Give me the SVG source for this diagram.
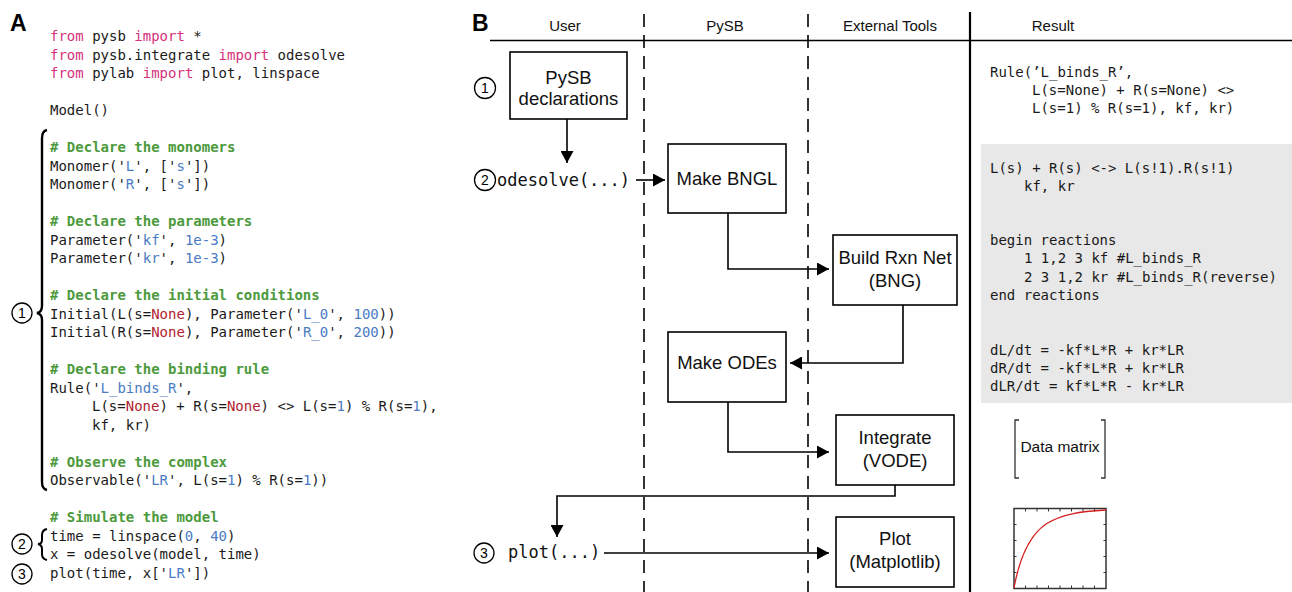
<svg xmlns="http://www.w3.org/2000/svg" width="1292" height="592" viewBox="0 0 1292 592">
<defs>
<style>
.code{font-family:"DejaVu Sans Mono","Liberation Mono",monospace;font-size:14px;fill:#1a1a1a}
.k{fill:#d6307c}
.c{fill:#4c9a3c;font-weight:bold}
.s{fill:#4a7cc4}
.n{fill:#b3212f}
.lbl{font-family:"Liberation Sans",Arial,sans-serif;font-size:18.5px;fill:#111;text-anchor:middle}
.hdr{font-family:"Liberation Sans",Arial,sans-serif;font-size:15px;fill:#111;text-anchor:middle}
.dm{font-family:"Liberation Sans",Arial,sans-serif;font-size:15.5px;fill:#111;text-anchor:middle}
.big{font-family:"Liberation Sans",Arial,sans-serif;font-size:23px;font-weight:bold;fill:#000}
.num{font-family:"Liberation Sans",Arial,sans-serif;font-size:14px;fill:#000;text-anchor:middle}
.circ{fill:none;stroke:#000;stroke-width:1.3}
.box{fill:#fff;stroke:#000;stroke-width:1.6}
.conn{fill:none;stroke:#000;stroke-width:1.6}
.call{font-family:"DejaVu Sans Mono","Liberation Mono",monospace;font-size:17px;fill:#111}
.dash{stroke:#000;stroke-width:1.6;stroke-dasharray:13 8}
</style>
<marker id="arr" viewBox="0 0 12 13" refX="12" refY="6.5" markerWidth="12" markerHeight="13" markerUnits="userSpaceOnUse" orient="auto">
<path d="M0,0 L12,6.5 L0,13 z" fill="#000"/>
</marker>
</defs>
<rect width="1292" height="592" fill="#fff"/>

<g id="panelA">
<text class="big" x="10" y="31">A</text>
<g id="code">
<text class="code" x="50" y="41"><tspan class="k">from</tspan> pysb <tspan class="k">import</tspan> *</text>
<text class="code" x="50" y="59.5"><tspan class="k">from</tspan> pysb.integrate <tspan class="k">import</tspan> odesolve</text>
<text class="code" x="50" y="78"><tspan class="k">from</tspan> pylab <tspan class="k">import</tspan> plot, linspace</text>
<text class="code" x="50" y="115">Model()</text>
<text class="code c" x="50" y="152"># Declare the monomers</text>
<text class="code" x="50" y="170.5">Monomer('<tspan class="s">L</tspan>', ['<tspan class="s">s</tspan>'])</text>
<text class="code" x="50" y="189">Monomer('<tspan class="s">R</tspan>', ['<tspan class="s">s</tspan>'])</text>
<text class="code c" x="50" y="226"># Declare the parameters</text>
<text class="code" x="50" y="244.5">Parameter('<tspan class="s">kf</tspan>', <tspan class="s">1e-3</tspan>)</text>
<text class="code" x="50" y="263">Parameter('<tspan class="s">kr</tspan>', <tspan class="s">1e-3</tspan>)</text>
<text class="code c" x="50" y="300"># Declare the initial conditions</text>
<text class="code" x="50" y="318.5">Initial(L(s=<tspan class="n">None</tspan>), Parameter('<tspan class="s">L_0</tspan>', <tspan class="s">100</tspan>))</text>
<text class="code" x="50" y="337">Initial(R(s=<tspan class="n">None</tspan>), Parameter('<tspan class="s">R_0</tspan>', <tspan class="s">200</tspan>))</text>
<text class="code c" x="50" y="374"># Declare the binding rule</text>
<text class="code" x="50" y="392.5">Rule('<tspan class="s">L_binds_R</tspan>',</text>
<text class="code" x="92" y="411">L(s=<tspan class="n">None</tspan>) + R(s=<tspan class="n">None</tspan>) &lt;&gt; L(s=<tspan class="s">1</tspan>) % R(s=<tspan class="s">1</tspan>),</text>
<text class="code" x="92" y="429.5">kf, kr)</text>
<text class="code c" x="50" y="466.5"># Observe the complex</text>
<text class="code" x="50" y="485">Observable('<tspan class="s">LR</tspan>', L(s=<tspan class="s">1</tspan>) % R(s=<tspan class="s">1</tspan>))</text>
<text class="code c" x="50" y="522"># Simulate the model</text>
<text class="code" x="50" y="540.5">time = linspace(<tspan class="s">0</tspan>, <tspan class="s">40</tspan>)</text>
<text class="code" x="50" y="559">x = odesolve(model, time)</text>
<text class="code" x="50" y="577.5">plot(time, x['<tspan class="s">LR</tspan>'])</text>
</g>
<g id="braces">
<path d="M47,130 Q42,131 42,138 L42,306 Q42,312 37,313 Q42,314 42,320 L42,482 Q42,489 47,490" fill="none" stroke="#000" stroke-width="2.4"/>
<path d="M47,529 Q42,530 42,535 L42,540 Q42,544 38,544 Q42,545 42,549 L42,554 Q42,559 47,560" fill="none" stroke="#000" stroke-width="2"/>
</g>
<g id="markersA">
<circle class="circ" cx="22" cy="313" r="10"/><text class="num" x="22" y="318">1</text>
<circle class="circ" cx="22" cy="544" r="10"/><text class="num" x="22" y="549">2</text>
<circle class="circ" cx="22" cy="574" r="10"/><text class="num" x="22" y="579">3</text>
</g>
</g>

<g id="panelB">
<text class="big" x="472" y="31">B</text>
<g id="lanes">
<text class="hdr" x="565" y="31">User</text>
<text class="hdr" x="725" y="31">PySB</text>
<text class="hdr" x="890" y="31">External Tools</text>
<text class="hdr" x="1053" y="31">Result</text>
<line x1="490" y1="40.5" x2="1292" y2="40.5" stroke="#000" stroke-width="1.6"/>
<line class="dash" x1="644" y1="14" x2="644" y2="592"/>
<line class="dash" x1="808" y1="14" x2="808" y2="592"/>
<line x1="970" y1="12" x2="970" y2="592" stroke="#000" stroke-width="2.2"/>
</g>

<g id="user">
<circle class="circ" cx="485" cy="88" r="10.5"/><text class="num" x="485" y="93">1</text>
<circle class="circ" cx="485" cy="180" r="10.5"/><text class="num" x="485" y="185">2</text>
<text class="call" x="497" y="186">odesolve(...)</text>
<circle class="circ" cx="484" cy="553" r="10"/><text class="num" x="484" y="558">3</text>
<text class="call" x="508" y="558">plot(...)</text>
</g>

<g id="node-declarations">
<rect class="box" x="510" y="52" width="117" height="67"/>
<text class="lbl" x="568.5" y="84">PySB</text>
<text class="lbl" x="568.5" y="105">declarations</text>
</g>
<g id="node-bngl">
<rect class="box" x="668" y="144" width="118" height="69"/>
<text class="lbl" x="727" y="185">Make BNGL</text>
</g>
<g id="node-bng">
<rect class="box" x="833" y="235" width="124" height="70"/>
<text class="lbl" x="895" y="264">Build Rxn Net</text>
<text class="lbl" x="895" y="287">(BNG)</text>
</g>
<g id="node-odes">
<rect class="box" x="668" y="332" width="118" height="70"/>
<text class="lbl" x="727" y="369">Make ODEs</text>
</g>
<g id="node-vode">
<rect class="box" x="836" y="415" width="118" height="70"/>
<text class="lbl" x="895" y="444">Integrate</text>
<text class="lbl" x="895" y="467">(VODE)</text>
</g>
<g id="node-plot">
<rect class="box" x="836" y="517" width="118" height="70"/>
<text class="lbl" x="895" y="545">Plot</text>
<text class="lbl" x="895" y="568">(Matplotlib)</text>
</g>

<g id="connectors">
<path class="conn" d="M567,119 V163" marker-end="url(#arr)"/>
<path class="conn" d="M636,180 H665" marker-end="url(#arr)"/>
<path class="conn" d="M728,213 V269 H829" marker-end="url(#arr)"/>
<path class="conn" d="M903,305 V363 H790" marker-end="url(#arr)"/>
<path class="conn" d="M728,402 V452 H829" marker-end="url(#arr)"/>
<path class="conn" d="M895,485 V496 H557 V537" marker-end="url(#arr)"/>
<path class="conn" d="M604,553 H829" marker-end="url(#arr)"/>
</g>

<g id="results">
<text class="code" x="990" y="77">Rule(’L_binds_R’,</text>
<text class="code" x="1032" y="95">L(s=None) + R(s=None) &lt;&gt;</text>
<text class="code" x="1032" y="113">L(s=1) % R(s=1), kf, kr)</text>
<rect x="981" y="144" width="311" height="259" fill="#e8e8e8"/>
<text class="code" x="990" y="173">L(s) + R(s) &lt;-&gt; L(s!1).R(s!1)</text>
<text class="code" x="1024" y="191">kf, kr</text>
<text class="code" x="990" y="245">begin reactions</text>
<text class="code" x="1024" y="263">1 1,2 3 kf #L_binds_R</text>
<text class="code" x="1024" y="282">2 3 1,2 kr #L_binds_R(reverse)</text>
<text class="code" x="990" y="300">end reactions</text>
<text class="code" x="990" y="355">dL/dt = -kf*L*R + kr*LR</text>
<text class="code" x="990" y="373">dR/dt = -kf*L*R + kr*LR</text>
<text class="code" x="990" y="391">dLR/dt = kf*L*R - kr*LR</text>
<g id="datamatrix">
<path d="M1019,420 H1015 V478 H1019 M1101,420 H1105 V478 H1101" fill="none" stroke="#333" stroke-width="1.3"/>
<text class="dm" x="1060" y="452">Data matrix</text>
</g>
<g id="thumbplot">
<rect x="1014" y="508.5" width="92" height="80" fill="#fff" stroke="#333" stroke-width="1.5"/>
<path d="M1025.5,509 v2.5 M1037,509 v2.5 M1048.5,509 v2.5 M1060,509 v2.5 M1071.5,509 v2.5 M1083,509 v2.5 M1094.5,509 v2.5 M1025.5,588 v-2.5 M1037,588 v-2.5 M1048.5,588 v-2.5 M1060,588 v-2.5 M1071.5,588 v-2.5 M1083,588 v-2.5 M1094.5,588 v-2.5 M1106,524.5 h-2.5 M1106,540.5 h-2.5 M1106,556.5 h-2.5 M1106,572.5 h-2.5 M1014,524.5 h2.5 M1014,540.5 h2.5 M1014,556.5 h2.5 M1014,572.5 h2.5" stroke="#333" stroke-width="1"/>
<path d="M1014,588 C1020,555 1030,535 1046,524 C1062,514 1080,511.5 1106,510" fill="none" stroke="#d42020" stroke-width="1.3"/>
</g>
</g>
</g>
</svg>
